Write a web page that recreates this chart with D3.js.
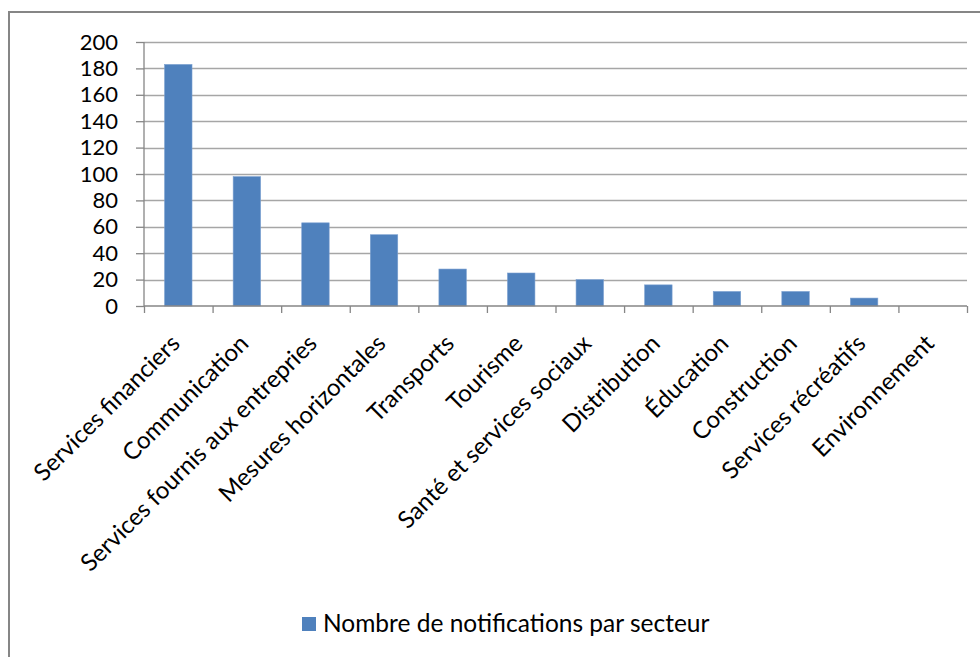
<!DOCTYPE html>
<meta charset="utf-8">
<script src="https://d3js.org/d3.v7.min.js"></script>
<style>
  body { margin: 0; background: #fff; }
  text { font-family: Lato, "Open Sans", sans-serif; fill: #000; }
</style>
<div id="plot_div"></div>
<script>
    // data
    const secteurs = ["Services financiers", "Communication", "Services fournis aux entrepries",
        "Mesures horizontales", "Transports", "Tourisme", "Santé et services sociaux",
        "Distribution", "Éducation", "Construction", "Services récréatifs", "Environnement"];
    const notifications = [183, 98, 63, 54, 28, 25, 20, 16, 11, 11, 6, 0];
    const y_ticks = [0, 20, 40, 60, 80, 100, 120, 140, 160, 180, 200];
    const serie_label = "Nombre de notifications par secteur";

    var width = 980, height = 657;
    var plot = { left: 144, right: 967, top: 42, bottom: 306 };

    var svg = d3.select("#plot_div")
        .append("svg")
        .attr("width", width)
        .attr("height", height);

    // chart frame (cropped on the right and bottom)
    svg.append("rect")
        .attr("x", 9).attr("y", 12)
        .attr("width", 1000).attr("height", 700)
        .attr("fill", "none")
        .attr("stroke", "#868686")
        .attr("stroke-width", 2);

    var x = d3.scaleBand()
        .domain(secteurs)
        .range([plot.left, plot.right])
        .paddingInner(0.6)
        .paddingOuter(0.3);

    var xb = d3.scaleLinear().domain([0, secteurs.length]).range([plot.left, plot.right]);

    var y = d3.scaleLinear()
        .domain([0, 200])
        .range([plot.bottom, plot.top]);

    // grid lines
    svg.append("g")
        .selectAll("line")
        .data(y_ticks.filter(d => d > 0))
        .join("line")
        .attr("x1", plot.left).attr("x2", plot.right)
        .attr("y1", d => Math.round(y(d)) + 0.5).attr("y2", d => Math.round(y(d)) + 0.5)
        .attr("stroke", "#a6a6a6")
        .attr("stroke-width", 1.3);

    // y axis
    var yAxis = svg.append("g")
        .attr("transform", "translate(" + plot.left + ",0)")
        .call(d3.axisLeft(y).tickValues(y_ticks).tickSize(8).tickPadding(18));
    yAxis.selectAll("line, path").attr("stroke", "#868686").attr("stroke-width", 1.3);
    yAxis.selectAll("text").attr("font-size", 22).attr("font-family", "Lato").attr("fill", "#000");
    yAxis.select(".domain").attr("d", "M0," + plot.top + "V" + plot.bottom);

    // bars
    svg.append("g")
        .selectAll("rect")
        .data(notifications)
        .join("rect")
        .attr("x", (d, i) => x(secteurs[i]))
        .attr("width", x.bandwidth())
        .attr("y", d => y(d))
        .attr("height", d => y(0) - y(d))
        .attr("fill", "#4f81bd")
        .attr("stroke", "#7a9fd0")
        .attr("stroke-width", 0.6);

    // x axis with ticks between categories
    var xAxis = svg.append("g")
        .attr("transform", "translate(0," + plot.bottom + ")")
        .call(d3.axisBottom(xb).tickValues(d3.range(secteurs.length + 1)).tickSize(7).tickFormat(""));
    xAxis.selectAll("line, path").attr("stroke", "#868686").attr("stroke-width", 1.3);
    xAxis.select(".domain").attr("d", "M" + plot.left + ",0H" + plot.right);

    // rotated category labels
    svg.append("g")
        .selectAll("text")
        .data(secteurs)
        .join("text")
        .attr("transform", d => "translate(" + (x(d) + x.bandwidth() / 2 + 3) + "," + (plot.bottom + 39) + ") rotate(-45)")
        .attr("text-anchor", "end")
        .attr("font-size", 24)
        .text(d => d);

    // legend
    var legend = svg.append("g").attr("transform", "translate(302,617)");
    legend.append("rect")
        .attr("width", 14).attr("height", 14)
        .attr("fill", "#4f81bd");
    legend.append("text")
        .attr("x", 21).attr("y", 15)
        .attr("font-size", 24.5)
        .text(serie_label);
</script>
